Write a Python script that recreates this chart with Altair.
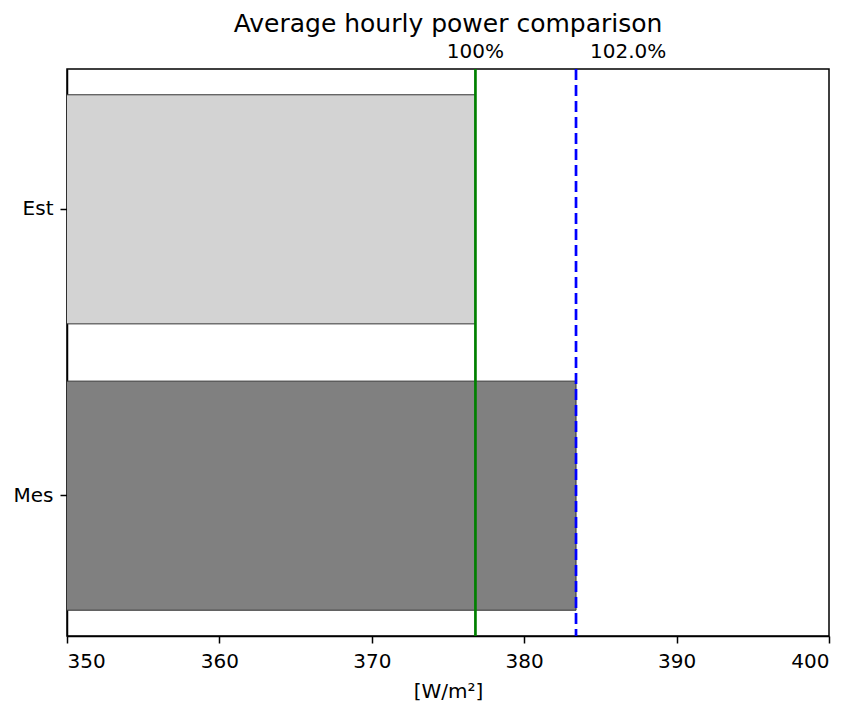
import altair as alt
import pandas as pd

categories = ["Est", "Mes"]
values = [376.8, 383.4]
bar_colors = ["#d3d3d3", "#808080"]

ref_values = [376.8, 383.4]
ref_labels = ["100%", "102.0%"]

bars_df = pd.DataFrame({"cat": categories, "value": values, "color": bar_colors})
ref_df = pd.DataFrame({"value": ref_values, "label": ref_labels})

x_scale = alt.Scale(domain=[350, 400], zero=False, nice=False)
x_axis = alt.Axis(values=[350, 360, 370, 380, 390, 400], title="[W/m²]", grid=False,
                  tickSize=7, labelPadding=8, titlePadding=10)

bars = alt.Chart(bars_df).mark_bar(clip=True, stroke="#333333", strokeWidth=1).encode(
    x=alt.X("value:Q", scale=x_scale, axis=x_axis),
    x2=alt.datum(0),
    y=alt.Y("cat:N", sort=categories, title=None,
            scale=alt.Scale(paddingInner=0.2, paddingOuter=0.09),
            axis=alt.Axis(tickSize=7, labelPadding=7, labelAngle=0)),
    color=alt.Color("color:N", scale=None),
)

green = alt.Chart(ref_df.iloc[[0]]).mark_rule(color="green", strokeWidth=2.7).encode(
    x=alt.X("value:Q", scale=x_scale)
)
blue = alt.Chart(ref_df.iloc[[1]]).mark_rule(color="blue", strokeWidth=2.7, strokeDash=[11, 5]).encode(
    x=alt.X("value:Q", scale=x_scale)
)

t1 = alt.Chart(ref_df.iloc[[0]]).mark_text(align="center", baseline="alphabetic", fontSize=20,
                                           font="DejaVu Sans", color="black").encode(
    x=alt.X("value:Q", scale=x_scale), y=alt.value(-11), text="label:N")
t2 = alt.Chart(ref_df.iloc[[1]]).mark_text(align="left", baseline="alphabetic", fontSize=20, dx=14,
                                           font="DejaVu Sans", color="black").encode(
    x=alt.X("value:Q", scale=x_scale), y=alt.value(-11), text="label:N")

chart = alt.layer(bars, green, blue, t1, t2).properties(
    width=762, height=567,
    title=alt.TitleParams("Average hourly power comparison", fontSize=25, fontWeight="normal",
                          font="DejaVu Sans", color="black", offset=5),
    autosize=alt.AutoSizeParams(type="none"),
    padding={"left": 59, "top": 61, "right": 16, "bottom": 69},
).configure_view(stroke="black", strokeWidth=1.5).configure_axis(
    labelFont="DejaVu Sans", titleFont="DejaVu Sans", labelFontSize=20, titleFontSize=20,
    labelColor="black", titleColor="black", domainColor="black", tickColor="black",
    domainWidth=1.5, tickWidth=1.5, titleFontWeight="normal",
)

chart.save("out.html", embed_options={"renderer": "svg", "actions": False})
